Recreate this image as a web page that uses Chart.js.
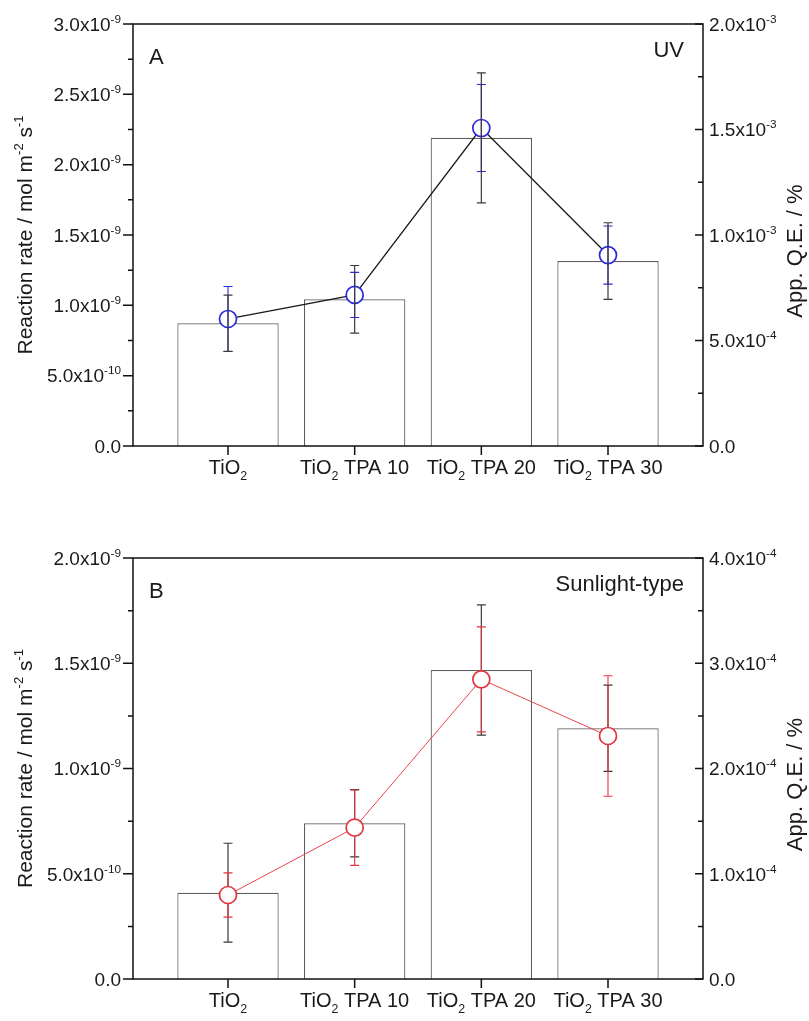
<!DOCTYPE html>
<html>
<head>
<meta charset="utf-8">
<script src="https://cdn.jsdelivr.net/npm/chart.js@4.4.1/dist/chart.umd.min.js"></script>
<style>
  body { margin: 0; background: #fff; }
  canvas { display: block; }
</style>
</head>
<body>
<canvas id="chartA" width="809" height="510"></canvas>
<canvas id="chartB" width="809" height="511"></canvas>
<script>
// categories on the x axis (_{} = subscript, ^{} = superscript)
const categories = ["TiO_{2}", "TiO_{2} TPA 10", "TiO_{2} TPA 20", "TiO_{2} TPA 30"];

// panel A : UV
const rateUV    = [0.872e-9, 1.043e-9, 2.191e-9, 1.315e-9];
const rateUVErr = [0.200e-9, 0.240e-9, 0.462e-9, 0.272e-9];
const qeUV      = [0.602e-3, 0.716e-3, 1.507e-3, 0.905e-3];
const qeUVErr   = [0.154e-3, 0.107e-3, 0.206e-3, 0.138e-3];

// panel B : sunlight-type
const rateSun    = [0.410e-9, 0.740e-9, 1.468e-9, 1.191e-9];
const rateSunErr = [0.235e-9, 0.160e-9, 0.309e-9, 0.205e-9];
const qeSun      = [0.798e-4, 1.438e-4, 2.847e-4, 2.309e-4];
const qeSunErr   = [0.210e-4, 0.358e-4, 0.499e-4, 0.572e-4];

// tick values and labels
const rateTicksA  = [0, 0.5e-9, 1.0e-9, 1.5e-9, 2.0e-9, 2.5e-9, 3.0e-9];
const rateLabelsA = ["0.0", "5.0x10^{-10}", "1.0x10^{-9}", "1.5x10^{-9}", "2.0x10^{-9}", "2.5x10^{-9}", "3.0x10^{-9}"];
const qeTicksA    = [0, 0.5e-3, 1.0e-3, 1.5e-3, 2.0e-3];
const qeLabelsA   = ["0.0", "5.0x10^{-4}", "1.0x10^{-3}", "1.5x10^{-3}", "2.0x10^{-3}"];
const rateTicksB  = [0, 0.5e-9, 1.0e-9, 1.5e-9, 2.0e-9];
const rateLabelsB = ["0.0", "5.0x10^{-10}", "1.0x10^{-9}", "1.5x10^{-9}", "2.0x10^{-9}"];
const qeTicksB    = [0, 1e-4, 2e-4, 3e-4, 4e-4];
const qeLabelsB   = ["0.0", "1.0x10^{-4}", "2.0x10^{-4}", "3.0x10^{-4}", "4.0x10^{-4}"];

const leftTitle  = "Reaction rate / mol m^{-2} s^{-1}";
const rightTitle = "App. Q.E. / %";

const FONT = "'Liberation Sans', Arial, sans-serif";
const W = 809;

// split a label into [text, kind] parts, kind 1 = sup, -1 = sub
function parseRich(s) {
  const parts = [];
  const re = /([_^])\{([^}]*)\}/g;
  let last = 0, m;
  while ((m = re.exec(s))) {
    if (m.index > last) parts.push([s.slice(last, m.index), 0]);
    parts.push([m[2], m[1] === "^" ? 1 : -1]);
    last = re.lastIndex;
  }
  if (last < s.length) parts.push([s.slice(last), 0]);
  return parts;
}

function drawRich(ctx, s, x, y, size, align) {
  const parts = parseRich(s);
  const small = size * 0.62;
  let total = 0;
  parts.forEach(p => {
    ctx.font = (p[1] ? small : size) + "px " + FONT;
    p.w = ctx.measureText(p[0]).width;
    total += p.w;
  });
  let cx = x;
  if (align === "right") cx = x - total;
  else if (align === "center") cx = x - total / 2;
  ctx.textAlign = "left";
  ctx.textBaseline = "alphabetic";
  parts.forEach(p => {
    ctx.font = (p[1] ? small : size) + "px " + FONT;
    let dy = 0;
    if (p[1] === 1) dy = -size * 0.42;
    if (p[1] === -1) dy = size * 0.3;
    ctx.fillText(p[0], cx, y + dy);
    cx += p.w;
  });
}

function errBar(ctx, x, y1, y2, cap) {
  ctx.beginPath();
  ctx.moveTo(x, y1); ctx.lineTo(x, y2);
  ctx.moveTo(x - cap, y1); ctx.lineTo(x + cap, y1);
  ctx.moveTo(x - cap, y2); ctx.lineTo(x + cap, y2);
  ctx.stroke();
}

function drawErrors(chart, cfg) {
  const {ctx, scales} = chart;
  const black = () => {
    ctx.strokeStyle = "#3a3a3a"; ctx.lineWidth = 1.2;
    cfg.rate.forEach((v, i) => {
      const x = scales.x.getPixelForValue(i + 1);
      errBar(ctx, x, scales.y.getPixelForValue(v + cfg.rateErr[i]), scales.y.getPixelForValue(v - cfg.rateErr[i]), 4.5);
    });
  };
  const colored = () => {
    ctx.strokeStyle = cfg.color; ctx.lineWidth = 1.1;
    cfg.qe.forEach((v, i) => {
      const x = scales.x.getPixelForValue(i + 1);
      errBar(ctx, x, scales.y1.getPixelForValue(v + cfg.qeErr[i]), scales.y1.getPixelForValue(v - cfg.qeErr[i]), 4.5);
    });
  };
  ctx.save();
  if (cfg.blackOnTop) { colored(); black(); } else { black(); colored(); }
  ctx.restore();
}

function drawFrame(chart, cfg) {
  const {ctx, chartArea: a, scales} = chart;
  ctx.save();
  ctx.strokeStyle = "#111";
  ctx.lineWidth = 1.5;
  ctx.strokeRect(a.left, a.top, a.right - a.left, a.bottom - a.top);

  ctx.beginPath();
  // left axis, ticks outward
  cfg.rateTicks.forEach((v, i) => {
    const y = scales.y.getPixelForValue(v);
    ctx.moveTo(a.left - 10, y); ctx.lineTo(a.left, y);
    if (i > 0) {
      const ym = scales.y.getPixelForValue((v + cfg.rateTicks[i - 1]) / 2);
      ctx.moveTo(a.left - 5, ym); ctx.lineTo(a.left, ym);
    }
  });
  // right axis, ticks inward
  cfg.qeTicks.forEach((v, i) => {
    const y = scales.y1.getPixelForValue(v);
    ctx.moveTo(a.right - 8, y); ctx.lineTo(a.right, y);
    if (i > 0) {
      const ym = scales.y1.getPixelForValue((v + cfg.qeTicks[i - 1]) / 2);
      ctx.moveTo(a.right - 5, ym); ctx.lineTo(a.right, ym);
    }
  });
  // bottom axis
  scales.x.ticks.forEach(t => {
    const x = scales.x.getPixelForValue(t.value);
    ctx.moveTo(x, a.bottom); ctx.lineTo(x, a.bottom + 9);
  });
  ctx.stroke();

  ctx.fillStyle = "#1a1a1a";
  cfg.rateTicks.forEach((v, i) => {
    drawRich(ctx, cfg.rateLabels[i], a.left - 12, scales.y.getPixelForValue(v) + 6.8, 19, "right");
  });
  cfg.qeTicks.forEach((v, i) => {
    drawRich(ctx, cfg.qeLabels[i], a.right + 6, scales.y1.getPixelForValue(v) + 6.8, 19, "left");
  });
  categories.forEach((c, i) => {
    drawRich(ctx, c, scales.x.getPixelForValue(i + 1), a.bottom + 28, 20, "center");
  });

  const midY = (a.top + a.bottom) / 2;
  ctx.save();
  ctx.translate(32, midY);
  ctx.rotate(-Math.PI / 2);
  drawRich(ctx, leftTitle, 0, 0, 21, "center");
  ctx.restore();
  ctx.save();
  ctx.translate(802, midY + 16);
  ctx.rotate(-Math.PI / 2);
  drawRich(ctx, rightTitle, 0, 0, 22, "center");
  ctx.restore();

  drawRich(ctx, cfg.letter, a.left + 16, a.top + 40, 22, "left");
  drawRich(ctx, cfg.note, a.right - 19, a.top + 33, 22, "right");
  ctx.restore();
}

function buildPanel(id, cfg) {
  const plugin = {
    id: "frame_" + id,
    afterDatasetDraw(chart, args) {
      if (!cfg.errorsOnTop && args.index === 1) drawErrors(chart, cfg);
    },
    afterDatasetsDraw(chart) {
      if (cfg.errorsOnTop) drawErrors(chart, cfg);
      drawFrame(chart, cfg);
    }
  };
  return new Chart(document.getElementById(id), {
    type: "bar",
    data: {
      datasets: [
        {
          type: "line",
          data: cfg.qe.map((v, i) => ({x: i + 1, y: v})),
          yAxisID: "y1",
          order: 0,
          borderColor: cfg.lineColor,
          borderWidth: cfg.lineWidth,
          pointRadius: 8.5,
          pointBorderColor: cfg.color,
          pointBackgroundColor: "#fff",
          pointBorderWidth: 1.7,
          tension: 0
        },
        {
          type: "bar",
          data: cfg.rate.map((v, i) => ({x: i + 1, y: v})),
          yAxisID: "y",
          order: 1,
          backgroundColor: "#fff",
          borderColor: "#5e5e5e",
          borderWidth: 1.2,
          barPercentage: 0.8,
          categoryPercentage: 1
        }
      ]
    },
    options: {
      responsive: false,
      animation: false,
      events: [],
      layout: { padding: { left: 133, right: W - 703, top: cfg.top, bottom: cfg.bottom } },
      plugins: { legend: { display: false }, tooltip: { enabled: false } },
      scales: {
        x: {
          type: "linear", min: 0.25, max: 4.75, offset: false, display: false,
          afterBuildTicks: s => { s.ticks = categories.map((c, i) => ({value: i + 1})); }
        },
        y: { min: 0, max: cfg.rateTicks[cfg.rateTicks.length - 1], display: false },
        y1: { min: 0, max: cfg.qeTicks[cfg.qeTicks.length - 1], display: false, position: "right" }
      }
    },
    plugins: [plugin]
  });
}

buildPanel("chartA", {
  rate: rateUV, rateErr: rateUVErr, qe: qeUV, qeErr: qeUVErr,
  rateTicks: rateTicksA, rateLabels: rateLabelsA, qeTicks: qeTicksA, qeLabels: qeLabelsA,
  color: "#2a2ae0", lineColor: "#1a1a1a", lineWidth: 1.3,
  errorsOnTop: true, blackOnTop: true,
  letter: "A", note: "UV", top: 24, bottom: 64
});

buildPanel("chartB", {
  rate: rateSun, rateErr: rateSunErr, qe: qeSun, qeErr: qeSunErr,
  rateTicks: rateTicksB, rateLabels: rateLabelsB, qeTicks: qeTicksB, qeLabels: qeLabelsB,
  color: "#e23540", lineColor: "#e8454d", lineWidth: 1,
  errorsOnTop: false, blackOnTop: false,
  letter: "B", note: "Sunlight-type", top: 48, bottom: 42
});
</script>
</body>
</html>
